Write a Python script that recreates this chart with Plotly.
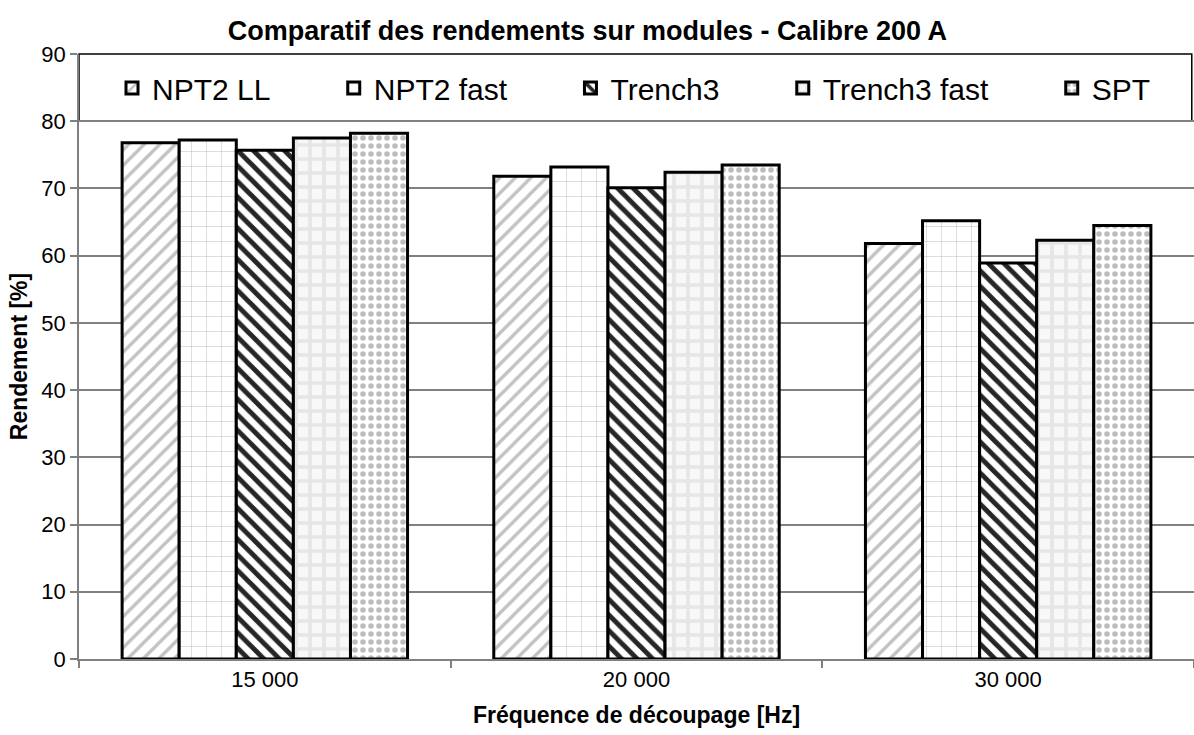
import plotly.graph_objects as go

categories = ["15 000", "20 000", "30 000"]
series_names = ["NPT2 LL", "NPT2 fast", "Trench3", "Trench3 fast", "SPT"]
npt2_ll = [76.8, 71.8, 61.8]
npt2_fast = [77.2, 73.2, 65.2]
trench3 = [75.7, 70.1, 58.9]
trench3_fast = [77.5, 72.4, 62.3]
spt = [78.2, 73.5, 64.5]

series_values = [npt2_ll, npt2_fast, trench3, trench3_fast, spt]
patterns = [
    dict(shape="/", fgcolor="#c2c2c2", bgcolor="white", size=11, solidity=0.3, fgopacity=1),
    dict(shape="+", fgcolor="#b4b4b4", bgcolor="white", size=15, solidity=0.06, fgopacity=1),
    dict(shape="\\", fgcolor="#262626", bgcolor="white", size=11, solidity=0.45, fgopacity=1),
    dict(shape="+", fgcolor="#e6e6e6", bgcolor="#f8f8f8", size=14, solidity=0.45, fgopacity=1),
    dict(shape=".", fgcolor="#bdbdbd", bgcolor="white", size=8, solidity=0.38, fgopacity=1),
]

FONT = "Liberation Sans, Arial, sans-serif"
PAD = "\u00a0" * 7

fig = go.Figure()
for i, (name, vals, pat) in enumerate(zip(series_names, series_values, patterns)):
    label = name if i == len(series_names) - 1 else name + PAD
    fig.add_trace(go.Bar(
        x=categories, y=vals, name=label,
        marker=dict(color="white", pattern=pat, line=dict(color="black", width=3)),
    ))

fig.update_layout(
    width=1194, height=735,
    barmode="group", bargap=0.232, bargroupgap=0,
    paper_bgcolor="white", plot_bgcolor="white",
    margin=dict(l=79, r=0, t=54, b=76, autoexpand=False),
    font=dict(family=FONT, size=22, color="black"),
    title=dict(text="<b>Comparatif des rendements sur modules - Calibre 200 A</b>",
               x=0.492, xanchor="center", y=0.959, yanchor="middle",
               font=dict(family=FONT, size=27, color="black")),
    showlegend=True,
    legend=dict(orientation="h", x=0.0296, xanchor="left", y=0.944, yanchor="middle",
                bgcolor="rgba(0,0,0,0)", borderwidth=0,
                font=dict(family=FONT, size=30, color="black"),
                entrywidth=0, traceorder="normal"),
    shapes=[dict(type="rect", xref="paper", yref="paper", x0=0, x1=0.998,
                 y0=80 / 90, y1=1, line=dict(color="black", width=1.5),
                 fillcolor="white", layer="below")],
)

fig.update_yaxes(
    range=[0, 90], dtick=10, showgrid=True, gridcolor="#808080", gridwidth=1.5,
    showline=True, linecolor="#808080", linewidth=1.5, mirror=True,
    ticks="outside", ticklen=7, tickcolor="#808080", tickwidth=1.5,
    tickfont=dict(family=FONT, size=22, color="black"),
    title=dict(text="<b>Rendement [%]</b>", font=dict(family=FONT, size=23, color="black"), standoff=7),
    zeroline=False, automargin=False,
)
fig.update_xaxes(
    showline=True, linecolor="#808080", linewidth=1.5,
    ticks="outside", tickson="boundaries", ticklen=7, tickcolor="#808080", tickwidth=1.5,
    tickfont=dict(family=FONT, size=22, color="black"),
    title=dict(text="<b>Fréquence de découpage [Hz]</b>", font=dict(family=FONT, size=23, color="black"), standoff=16),
    automargin=False,
)

# Remove the browser's default 8px body margin so the figure fills the window exactly.
fig.write_html("out.html", config={"displayModeBar": False},
               post_script="document.body.style.margin='0';document.body.style.overflow='hidden';")
